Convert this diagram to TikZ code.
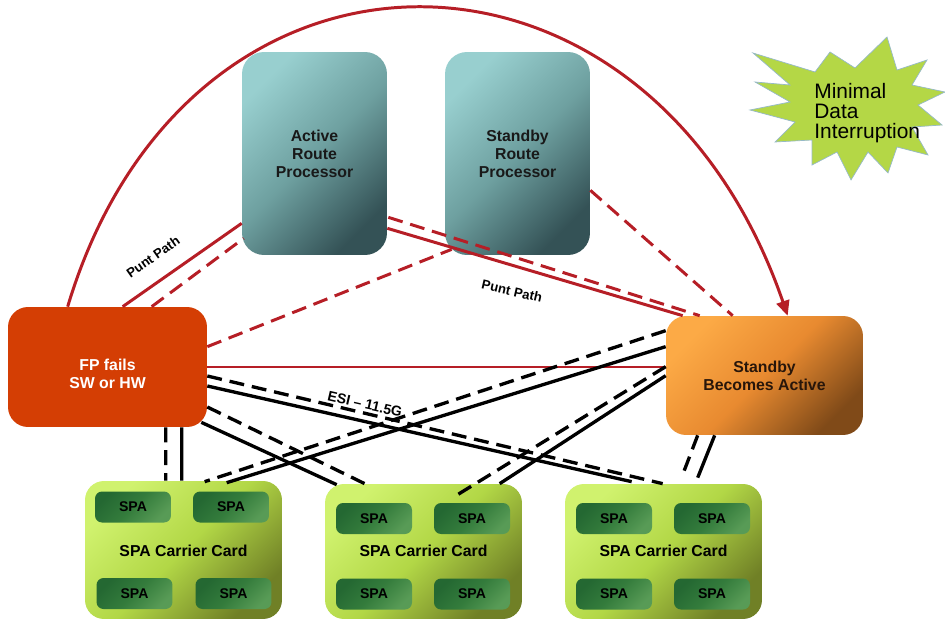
\documentclass[tikz,border=0pt]{standalone}
\usepackage{fontspec}
\setmainfont{Liberation Sans}
\usetikzlibrary{arrows.meta,calc}

\definecolor{redline}{RGB}{182,30,38}
\definecolor{rpA}{RGB}{152,207,207}
\definecolor{rpM}{RGB}{110,160,160}
\definecolor{rpB}{RGB}{52,82,86}
\definecolor{sbA}{RGB}{252,170,70}
\definecolor{sbM}{RGB}{232,138,48}
\definecolor{sbB}{RGB}{128,74,24}
\definecolor{fpfill}{RGB}{212,62,4}
\definecolor{cdA}{RGB}{208,242,110}
\definecolor{cdM}{RGB}{178,215,70}
\definecolor{cdB}{RGB}{112,128,38}
\definecolor{spA}{RGB}{36,104,50}
\definecolor{spM}{RGB}{52,124,60}
\definecolor{spB}{RGB}{88,155,86}
\definecolor{starfill}{RGB}{180,215,70}
\definecolor{starline}{RGB}{150,185,200}

\tikzset{
  redl/.style={draw=redline, line width=1.7pt},
  redd/.style={redl, dash pattern=on 8.5pt off 4.5pt},
  blkl/.style={draw=black, line width=1.9pt},
  blkd/.style={blkl, dash pattern=on 8.5pt off 4.5pt},
  boxfont/.style={font=\bfseries\fontsize{9}{10.2}\selectfont},
  rpbox/.style={rounded corners=0.44cm, minimum width=2.9cm, minimum height=4.06cm,
    top color=rpA, bottom color=rpB, middle color=rpM, shading angle=45,
    boxfont, align=center, text={rgb,255:red,25;green,25;blue,25}, inner sep=0pt},
  fpbox/.style={rounded corners=0.4cm, minimum width=3.98cm, minimum height=2.4cm,
    fill=fpfill, inner sep=0pt},
  sbbox/.style={rounded corners=0.4cm, minimum width=3.94cm, minimum height=2.38cm,
    top color=sbA, bottom color=sbB, middle color=sbM, shading angle=45,
    boxfont, align=center, text={rgb,255:red,40;green,22;blue,10}, inner sep=0pt},
  cardbox/.style={rounded corners=0.38cm, minimum width=3.94cm,
    top color=cdA, bottom color=cdB, middle color=cdM, shading angle=45, inner sep=0pt},
  spabox/.style={rounded corners=0.14cm, minimum width=1.52cm, minimum height=0.62cm,
    top color=spA, bottom color=spB, middle color=spM, shading angle=45,
    font=\bfseries\fontsize{8}{9}\selectfont, text=black, inner sep=0pt},
  cardlabel/.style={font=\bfseries\fontsize{9}{10}\selectfont, text=black, inner sep=0pt},
  pathlabel/.style={font=\bfseries\fontsize{7.5}{8}\selectfont, text=black, inner sep=0pt},
}

\begin{document}
\begin{tikzpicture}[x=0.02cm,y=-0.02cm]
\useasboundingbox (0,0) rectangle (945,621);

% star
\path[fill=starfill, draw=starline, line width=0.4pt]
  (887,37) -- (897,70) -- (927,60) -- (912,85) -- (945,92) -- (918,105) --
  (942,125) -- (912,127) -- (928,155) -- (897,147) -- (888,173) -- (868,152) --
  (851,180) -- (837,152) -- (812,165) -- (812,140) -- (775,142) -- (795,122) --
  (750,110) -- (790,102) -- (755,82) -- (790,85) -- (753,53) -- (815,72) --
  (830,52) -- (855,68) -- cycle;
\node[anchor=west, align=left, inner sep=0pt, font=\fontsize{11.9}{11.4}\selectfont]
  (mdi) at (814,113) {Minimal\\Data\\Interruption};

% main boxes
\node[rpbox] (arp) at (314.5,153.5) {Active\\Route\\Processor};
\node[rpbox] (srp) at (517.5,153.5) {Standby\\Route\\Processor};
\node[fpbox] (fp) at (107.5,367) {};
\node[boxfont, align=center, text=white, inner sep=0pt] (fptext) at (107.5,374) {FP fails\\SW or HW};
\node[sbbox] (sba) at (764.5,375.5) {Standby\\Becomes Active};

% carrier cards
\node[cardbox, minimum height=2.76cm] (card1) at (183.5,550) {};
\node[cardbox, minimum height=2.70cm] (card2) at (423.5,551.5) {};
\node[cardbox, minimum height=2.70cm] (card3) at (663.5,551.5) {};

\node[spabox] (s11) at (133,507) {SPA};
\node[spabox] (s12) at (231,507) {SPA};
\node[spabox] (s13) at (134.5,593.5) {SPA};
\node[spabox] (s14) at (233.5,593.5) {SPA};
\node[cardlabel] (c1l) at (183.5,551) {SPA Carrier Card};

\node[spabox] (s21) at (374,518.5) {SPA};
\node[spabox] (s22) at (472,518.5) {SPA};
\node[spabox] (s23) at (374,594) {SPA};
\node[spabox] (s24) at (472,594) {SPA};
\node[cardlabel] (c2l) at (423.5,551) {SPA Carrier Card};

\node[spabox] (s31) at (614,518.5) {SPA};
\node[spabox] (s32) at (712,518.5) {SPA};
\node[spabox] (s33) at (614,594) {SPA};
\node[spabox] (s34) at (712,594) {SPA};
\node[cardlabel] (c3l) at (663.5,551) {SPA Carrier Card};

% red connectors
\draw[redl, -{Triangle[length=8.5pt,width=7.5pt]}]
  ($(fp.north west)+(60,0)$) .. controls (188,-95) and (648,-90) .. ($(sba.north west)+(122,0)$);
\draw[redl] ($(fp.north west)+(115,0)$) -- ($(arp.south west)+(0,-32)$);
\draw[redd] ($(fp.north west)+(144,0)$) -- ($(arp.south west)+(2,-17)$);
\draw[redd] ($(fp.north east)+(0,40)$) -- ($(srp.south west)+(7,-6)$);
\draw[redl] ($(arp.south east)+(0,-27)$) -- ($(sba.north west)+(17,0)$);
\draw[redd] ($(arp.south east)+(1,-38)$) -- ($(sba.north west)+(34,0)$);
\draw[redd] ($(srp.south east)+(0,-65)$) -- ($(sba.north west)+(67,0)$);
\draw[redl] (fp.east) -- ($(sba.west)+(0,-8.5)$);

% black connectors from FP
\draw[blkd] ($(fp.south west)+(158,0)$) -- ($(card1.north west)+(81,0)$);
\draw[blkl] ($(fp.south west)+(174,0)$) -- ($(card1.north west)+(97,0)$);
\draw[blkd] ($(fp.east)+(0,9)$) -- ($(card3.north west)+(98,0)$);
\draw[blkl] ($(fp.east)+(0,19)$) -- ($(card3.north west)+(67,-2)$);
\draw[blkd] ($(fp.east)+(0,40)$) -- ($(card2.north west)+(40,0)$);
\draw[blkl] ($(fp.south east)+(-6,-5)$) -- ($(card2.north west)+(12,1)$);

% black connectors from Standby
\draw[blkd] ($(sba.north west)+(0,15)$) -- ($(card1.north west)+(120,1)$);
\draw[blkl] ($(sba.north west)+(0,31)$) -- ($(card1.north west)+(142,2)$);
\draw[blkd] ($(sba.north west)+(0,51)$) -- ($(card2.north west)+(128,14)$);
\draw[blkl] ($(sba.north west)+(0,60)$) -- ($(card2.north west)+(175,0)$);
\draw[blkd] ($(sba.south west)+(32,0)$) -- ($(card3.north west)+(118,-9)$);
\draw[blkl] ($(sba.south west)+(49,0)$) -- ($(card3.north west)+(133,-6)$);

% labels
\node[pathlabel, rotate=35] (pp1) at (153,257) {Punt Path};
\node[pathlabel, rotate=-13] (pp2) at (512,291) {Punt Path};
\node[pathlabel, font=\bfseries\fontsize{8}{9}\selectfont, rotate=-13] (esi) at (365,404) {ESI – 11.5G};
\end{tikzpicture}
\end{document}
